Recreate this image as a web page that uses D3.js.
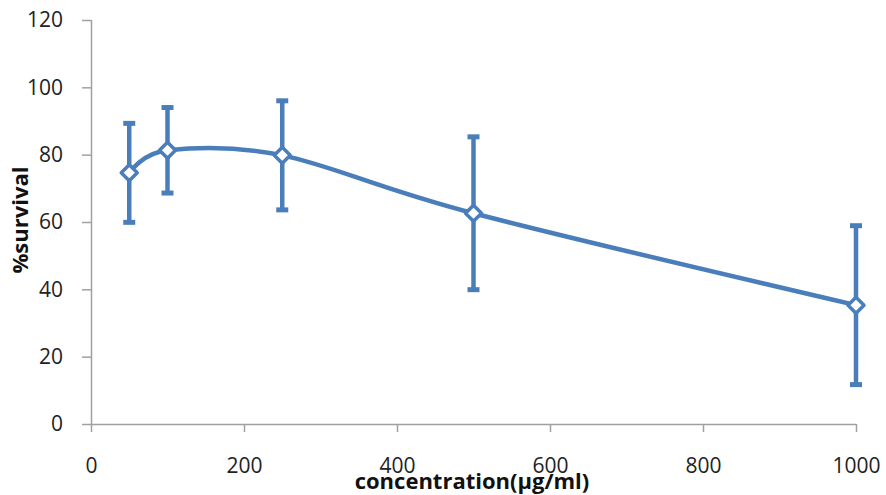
<!DOCTYPE html>
<html>
<head>
<meta charset="utf-8">
<script src="https://cdnjs.cloudflare.com/ajax/libs/d3/7.8.5/d3.min.js"></script>
<style>
  body { margin: 0; background: #fff; }
  svg { display: block; }
  .tick text { font-family: "Open Sans", "Liberation Sans", sans-serif; font-size: 21px; fill: #222; }
</style>
</head>
<body>
<script>
// concentration (µg/ml) and % survival
var concentration = [50, 100, 250, 500, 1000];
var survival = [74.6, 81.3, 79.8, 62.6, 35.3];
var errSurvival = [14.7, 12.7, 16.2, 22.7, 23.6];

var xTicks = [0, 200, 400, 600, 800, 1000];
var yTicks = [0, 20, 40, 60, 80, 100, 120];

var blue = "#4a7ebb";

window.onload = function() {
	drawChart();
};

function drawChart() {
	var width = 886, height = 495;
	var margin = {top: 20, right: 30, bottom: 71, left: 91};

	var svg = d3.select("body")
				.append("svg")
				.attr("width", width)
				.attr("height", height);

	var xScale = d3.scaleLinear()
				   .domain([0, 1000])
				   .range([margin.left, width - margin.right]);

	var yScale = d3.scaleLinear()
				   .domain([0, 120])
				   .range([height - margin.bottom, margin.top]);

	// y axis
	var yAxis = svg.append("g")
				   .attr("transform", "translate(" + margin.left + ",0)")
				   .call(d3.axisLeft(yScale).tickValues(yTicks).tickFormat(d3.format("d")).tickSize(9).tickPadding(19));

	// x axis
	var xAxis = svg.append("g")
				   .attr("transform", "translate(0," + yScale(0) + ")")
				   .call(d3.axisBottom(xScale).tickValues(xTicks).tickFormat(d3.format("d")).tickSize(8).tickPadding(26));

	svg.selectAll(".domain").attr("stroke", "#a0a0a0").attr("stroke-width", 1.5);
	svg.selectAll(".tick line").attr("stroke", "#a0a0a0").attr("stroke-width", 1.5);
	xAxis.select(".domain").attr("d", "M" + margin.left + ",0.5H" + (width - margin.right));
	yAxis.select(".domain").attr("d", "M0.5," + margin.top + "V" + yScale(0));

	// axis titles (the x title overlaps the tick labels in the original too)
	svg.append("text")
	   .attr("transform", "translate(28," + 220 + ") rotate(-90)")
	   .style("text-anchor", "middle")
	   .style("font-family", "'Open Sans', 'Liberation Sans', sans-serif")
	   .style("font-weight", "bold")
	   .style("font-size", "22px")
	   .style("fill", "#111")
	   .text("%survival");

	svg.append("text")
	   .attr("x", 472)
	   .attr("y", 489)
	   .style("text-anchor", "middle")
	   .style("font-family", "'Open Sans', 'Liberation Sans', sans-serif")
	   .style("font-weight", "bold")
	   .style("font-size", "22px")
	   .style("fill", "#111")
	   .text("concentration(µg/ml)");

	var points = concentration.map(function(c, i) {
		return {x: c, y: survival[i], e: errSurvival[i]};
	});

	// error bars
	var bars = svg.append("g").selectAll("g")
				  .data(points)
				  .enter()
				  .append("g");

	bars.append("line")
		.attr("x1", function(d) { return xScale(d.x); })
		.attr("x2", function(d) { return xScale(d.x); })
		.attr("y1", function(d) { return yScale(d.y + d.e); })
		.attr("y2", function(d) { return yScale(d.y - d.e); })
		.attr("stroke", blue)
		.attr("stroke-width", 4.5);

	[1, -1].forEach(function(s) {
		bars.append("line")
			.attr("x1", function(d) { return xScale(d.x) - 6; })
			.attr("x2", function(d) { return xScale(d.x) + 6; })
			.attr("y1", function(d) { return yScale(d.y + s * d.e); })
			.attr("y2", function(d) { return yScale(d.y + s * d.e); })
			.attr("stroke", blue)
			.attr("stroke-width", 5);
	});

	// smoothed line
	var line = d3.line()
				 .x(function(d) { return xScale(d.x); })
				 .y(function(d) { return yScale(d.y); })
				 .curve(d3.curveCardinal.tension(0));

	svg.append("path")
	   .datum(points)
	   .attr("d", line)
	   .attr("fill", "none")
	   .attr("stroke", blue)
	   .attr("stroke-width", 4.5);

	// diamond markers
	svg.append("g").selectAll("path")
	   .data(points)
	   .enter()
	   .append("path")
	   .attr("transform", function(d) { return "translate(" + xScale(d.x) + "," + yScale(d.y) + ")"; })
	   .attr("d", "M0,-8L8,0L0,8L-8,0Z")
	   .attr("fill", "#fff")
	   .attr("stroke", blue)
	   .attr("stroke-width", 3.5)
	   .attr("stroke-linejoin", "round");
}
</script>
</body>
</html>
